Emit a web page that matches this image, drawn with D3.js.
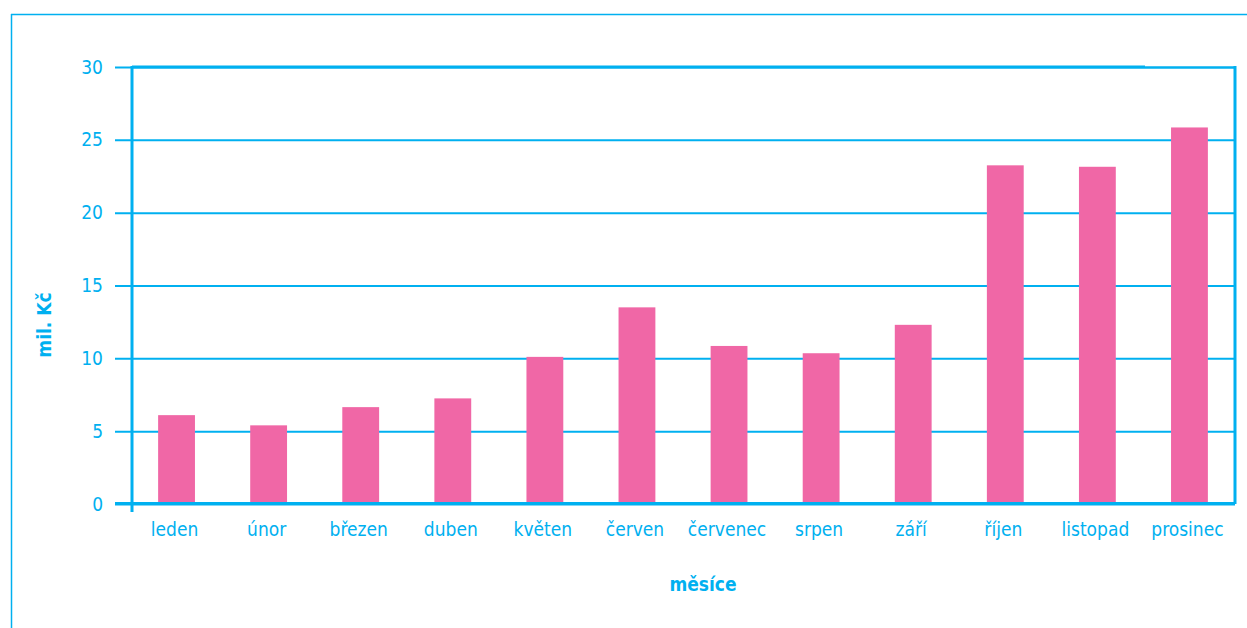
<!DOCTYPE html>
<html>
<head>
<meta charset="utf-8">
<script src="https://cdn.jsdelivr.net/npm/d3@7"></script>
<style>
html,body{margin:0;padding:0;background:#fff;}
svg{display:block;}
text{font-family:"DejaVu Sans Condensed","DejaVu Sans",sans-serif;}
</style>
</head>
<body>
<svg id="chart" width="1247" height="628"></svg>
<script>
const categories = ["leden","únor","březen","duben","květen","červen","červenec","srpen","září","říjen","listopad","prosinec"];
const values = [6.1, 5.4, 6.65, 7.25, 10.1, 13.5, 10.85, 10.35, 12.3, 23.25, 23.15, 25.85];
const yTicks = [0, 5, 10, 15, 20, 25, 30];
const yTitle = "mil. Kč";
const xTitle = "měsíce";

const blue = "#00b0f0";
const pink = "#f067a6";

const svg = d3.select("#chart");
const pLeft = 132, pRight = 1235, pTop = 67, pBottom = 504;

const x = d3.scaleBand().domain(categories).range([pLeft - 1.5, pRight + 0.5]).paddingInner(0.6).paddingOuter(0.3);
const y = d3.scaleLinear().domain([0, 30]).range([pBottom, pTop]);

// outer frame
svg.append("line").attr("x1", 11.5).attr("x2", 11.5).attr("y1", 14).attr("y2", 628).attr("stroke", blue).attr("stroke-width", 1.5);
svg.append("line").attr("x1", 11).attr("x2", 1247).attr("y1", 14.5).attr("y2", 14.5).attr("stroke", blue).attr("stroke-width", 1.5);

// gridlines + y axis
const yAxis = d3.axisLeft(y).tickValues(yTicks).tickSize(pRight - pLeft + 17).tickPadding(12);
const gy = svg.append("g").attr("transform", `translate(${pRight},0)`).call(yAxis);
gy.select(".domain").remove();
gy.selectAll(".tick line").attr("stroke", blue).attr("stroke-width", 2);
gy.selectAll(".tick text").attr("fill", blue).attr("font-size", 19).attr("font-family", "DejaVu Sans Condensed, DejaVu Sans, sans-serif");

// bars
svg.append("g").selectAll("rect").data(values).join("rect")
  .attr("x", (d, i) => x(categories[i]))
  .attr("y", d => y(d))
  .attr("width", x.bandwidth())
  .attr("height", d => y(0) - y(d))
  .attr("fill", pink);

// plot frame
svg.append("line").attr("x1", pLeft).attr("x2", 1145).attr("y1", pTop).attr("y2", pTop).attr("stroke", blue).attr("stroke-width", 3);
svg.append("line").attr("x1", 1145).attr("x2", pRight + 1).attr("y1", pTop + 0.5).attr("y2", pTop + 0.5).attr("stroke", blue).attr("stroke-width", 2);
svg.append("line").attr("x1", pRight).attr("x2", pRight).attr("y1", pTop - 1).attr("y2", pBottom).attr("stroke", blue).attr("stroke-width", 3);
svg.append("line").attr("x1", pLeft).attr("x2", pLeft).attr("y1", pTop - 1).attr("y2", 512).attr("stroke", blue).attr("stroke-width", 3);
svg.append("line").attr("x1", 115).attr("x2", pRight).attr("y1", pBottom - 0.5).attr("y2", pBottom - 0.5).attr("stroke", blue).attr("stroke-width", 3);

// x axis labels
const xAxis = d3.axisBottom(x).tickSize(0).tickPadding(19);
const gx = svg.append("g").attr("transform", `translate(-2,${pBottom})`).call(xAxis);
gx.select(".domain").remove();
gx.selectAll(".tick text").attr("fill", blue).attr("font-size", 19).attr("font-family", "DejaVu Sans Condensed, DejaVu Sans, sans-serif");

// axis titles
svg.append("text").attr("x", 703).attr("y", 591).attr("text-anchor", "middle")
  .attr("fill", blue).attr("font-size", 19).attr("font-weight", "bold").text(xTitle);
svg.append("text").attr("transform", "translate(51,325) rotate(-90)").attr("text-anchor", "middle")
  .attr("fill", blue).attr("font-size", 19).attr("font-weight", "bold").text(yTitle);
</script>
</body>
</html>
